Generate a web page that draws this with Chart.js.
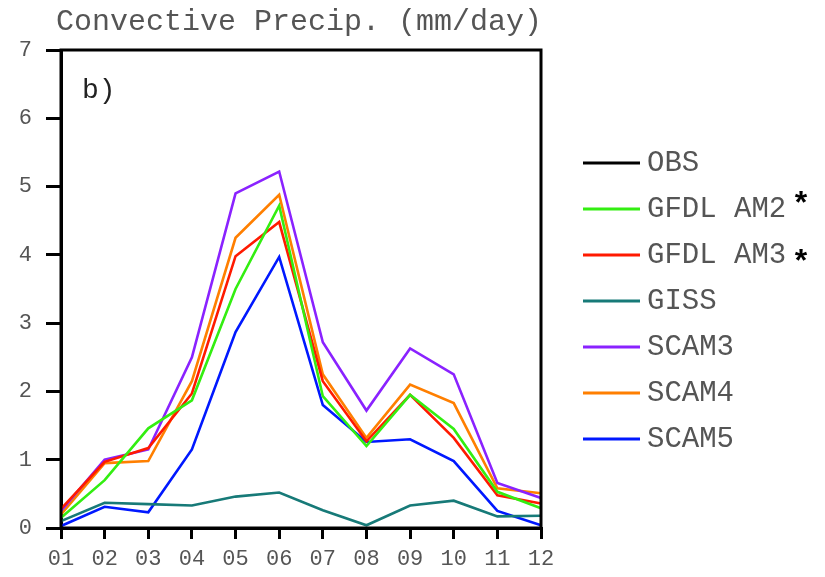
<!DOCTYPE html>
<html>
<head>
<meta charset="utf-8">
<script src="https://cdn.jsdelivr.net/npm/chart.js@4/dist/chart.umd.min.js"></script>
<style>
  html, body { margin: 0; padding: 0; background: #ffffff; }
  #wrap { width: 825px; height: 577px; }
</style>
</head>
<body>
<div id="wrap"><canvas id="c" width="825" height="577"></canvas></div>
<script>
// ---- data ----
const months = ["01","02","03","04","05","06","07","08","09","10","11","12"];
const seriesNames = ["OBS","GFDL AM2","GFDL AM3","GISS","SCAM3","SCAM4","SCAM5"];
const starred = [false, true, true, false, false, false, false];
const obs     = [null,null,null,null,null,null,null,null,null,null,null,null];
const gfdlAM2 = [0.15, 0.70, 1.46, 1.87, 3.50, 4.72, 1.93, 1.20, 1.95, 1.45, 0.53, 0.29];
const gfdlAM3 = [0.28, 0.97, 1.17, 1.97, 3.98, 4.48, 2.15, 1.27, 1.95, 1.32, 0.48, 0.36];
const giss    = [0.10, 0.37, 0.35, 0.33, 0.46, 0.52, 0.26, 0.04, 0.33, 0.40, 0.17, 0.18];
const scam3   = [0.25, 1.00, 1.15, 2.50, 4.90, 5.22, 2.72, 1.72, 2.63, 2.25, 0.66, 0.44];
const scam4   = [0.20, 0.95, 0.98, 2.15, 4.25, 4.88, 2.25, 1.32, 2.10, 1.83, 0.58, 0.51];
const scam5   = [0.03, 0.31, 0.23, 1.15, 2.87, 3.97, 1.80, 1.26, 1.30, 0.98, 0.25, 0.04];
const yTicks  = [0,1,2,3,4,5,6,7];
const titleText = "Convective Precip. (mm/day)";
const panelText = "b)";

// ---- styles ----
const colors = ["#000000","#33ee11","#ff1a00","#177a78","#8a22ff","#ff7f00","#0018ff"];
const values = [obs, gfdlAM2, gfdlAM3, giss, scam3, scam4, scam5];
const MONO = "'Liberation Mono', 'DejaVu Sans Mono', monospace";

const datasets = values.map((v, i) => ({
  label: seriesNames[i],
  data: v,
  borderColor: colors[i],
  backgroundColor: colors[i],
  borderWidth: 2.6,
  pointRadius: 0,
  tension: 0,
  fill: false,
  spanGaps: false
}));

const decorPlugin = {
  id: 'decor',
  afterDraw(chart) {
    const ctx = chart.ctx;
    const a = chart.chartArea;
    ctx.save();
    // frame box
    ctx.strokeStyle = '#000';
    ctx.lineWidth = 3;
    ctx.strokeRect(a.left, a.top, a.right - a.left, a.bottom - a.top);
    // title
    ctx.fillStyle = '#555';
    ctx.font = "30px " + MONO;
    ctx.textAlign = 'center';
    ctx.textBaseline = 'middle';
    ctx.fillText(titleText, (a.left + a.right) / 2 - 2, 22);
    // panel label
    ctx.fillStyle = '#222';
    ctx.font = "28px " + MONO;
    ctx.textAlign = 'left';
    ctx.fillText(panelText, 82, 91);
    // legend
    const rowY0 = 163, rowGap = 46;
    chart.data.datasets.forEach((ds, i) => {
      const y = rowY0 + i * rowGap;
      ctx.strokeStyle = ds.borderColor;
      ctx.lineWidth = 3;
      ctx.beginPath();
      ctx.moveTo(583, y);
      ctx.lineTo(640, y);
      ctx.stroke();
      ctx.fillStyle = '#555';
      ctx.font = "29px " + MONO;
      ctx.textAlign = 'left';
      ctx.textBaseline = 'middle';
      ctx.fillText(ds.label, 647, y);
      if (starred[i]) {
        ctx.fillStyle = '#000';
        ctx.font = "bold 32px 'Liberation Sans', 'DejaVu Sans', sans-serif";
        ctx.textAlign = 'center';
        ctx.textBaseline = 'alphabetic';
        const off = (i === 1) ? 4 : 16;
        ctx.fillText('*', 801, y + off);
      }
    });
    ctx.restore();
  }
};

new Chart(document.getElementById('c'), {
  type: 'line',
  data: { labels: months, datasets: datasets },
  options: {
    responsive: false,
    animation: false,
    devicePixelRatio: 1,
    layout: { padding: { left: 0, top: 50, right: 284, bottom: 0 } },
    plugins: {
      legend: { display: false },
      title: { display: false },
      tooltip: { enabled: false }
    },
    scales: {
      x: {
        type: 'category',
        offset: false,
        grid: { drawOnChartArea: false, drawTicks: true, tickLength: 11, color: '#000', lineWidth: 3 },
        border: { display: true, color: '#000', width: 3 },
        ticks: { color: '#555', font: { family: MONO, size: 22 }, padding: 7, maxRotation: 0, autoSkip: false },
        afterFit(scale) { scale.height = 49; }
      },
      y: {
        min: 0, max: 7,
        afterBuildTicks(scale) { scale.ticks = yTicks.map(v => ({ value: v })); },
        grid: { drawOnChartArea: false, drawTicks: true, tickLength: 15, color: '#000', lineWidth: 3 },
        border: { display: true, color: '#000', width: 3 },
        ticks: { color: '#555', font: { family: MONO, size: 22 }, padding: 14 },
        afterFit(scale) { scale.width = 61; }
      }
    }
  },
  plugins: [decorPlugin]
});
</script>
</body>
</html>
